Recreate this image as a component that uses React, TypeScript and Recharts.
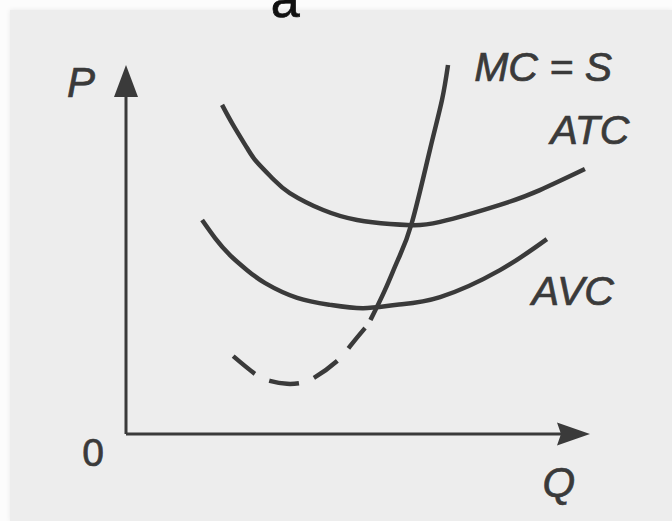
import React from 'react';
import { ComposedChart, Line, XAxis, YAxis, ReferenceLine, ReferenceDot } from 'recharts';

// Average total cost
const atcQ = [2.07, 2.31, 2.61, 2.82, 3.17, 3.53, 4.25, 4.98, 5.69, 6.16, 6.77, 8.06, 8.92, 9.89];
const atcP = [8.92, 8.37, 7.75, 7.37, 6.91, 6.53, 6.07, 5.8, 5.69, 5.66, 5.75, 6.21, 6.61, 7.18];

// Average variable cost
const avcQ = [1.64, 1.92, 2.24, 2.61, 3.0, 3.69, 4.4, 5.11, 5.84, 6.77, 8.06, 9.07];
const avcP = [5.8, 5.31, 4.85, 4.44, 4.09, 3.69, 3.5, 3.41, 3.5, 3.71, 4.44, 5.28];

// Marginal cost (dashed below AVC, solid above = supply)
const mcQ = [2.31, 2.78, 3.1, 3.47, 3.75, 4.05, 4.55, 4.83, 5.15, 5.28, 5.58, 5.86, 6.16, 6.55, 6.81, 6.94];
const mcP = [2.11, 1.63, 1.44, 1.36, 1.38, 1.52, 1.98, 2.38, 2.87, 3.12, 3.9, 4.72, 5.72, 7.7, 9.05, 10.0];

const rows = (q: number[], p: number[]) => q.map((x, i) => ({ q: x, p: p[i] }));

const atcData = rows(atcQ, atcP);
const avcData = rows(avcQ, avcP);
const mcData = rows(mcQ, mcP);

const INK = '#3a3a3a';
const FONT = '"Liberation Sans", Arial, Helvetica, sans-serif';

const labelStyle = (value: string, size: number, italic = true) => ({
  value,
  position: 'center' as const,
  fontSize: size,
  fontStyle: italic ? 'italic' : 'normal',
  fontFamily: FONT,
  fill: INK,
  stroke: INK,
  strokeWidth: 0.7,
});

const arrowUp = (props: any) => {
  const { cx, cy } = props;
  return <polygon points={`${cx},${cy} ${cx - 12},${cy + 32} ${cx + 12},${cy + 32}`} fill={INK} />;
};

const arrowRight = (props: any) => {
  const { cx, cy } = props;
  return (
    <polygon
      points={`${cx},${cy} ${cx - 33},${cy - 11.5} ${cx - 29},${cy} ${cx - 33},${cy + 11.5}`}
      fill={INK}
    />
  );
};

export default function App() {
  return (
    <div style={{ position: 'absolute', left: 0, top: 0, width: 672, height: 521, background: '#fcfcfc', overflow: 'hidden' }}>
      <div style={{ position: 'absolute', left: 10, top: 10, right: 0, bottom: 0, background: '#ededed', boxShadow: '0 0 5px rgba(0,0,0,0.08)' }} />
      <div style={{ position: 'absolute', left: 0, top: 0 }}>
        <ComposedChart width={672} height={521} margin={{ top: 65, right: 82, bottom: 87, left: 126 }}>
          <XAxis type="number" dataKey="q" domain={[0, 10]} hide />
          <YAxis type="number" dataKey="p" domain={[0, 10]} hide />

          {/* axes with arrowheads */}
          <ReferenceLine segment={[{ x: 0, y: 0 }, { x: 9.6, y: 0 }]} stroke={INK} strokeWidth={3} ifOverflow="visible" />
          <ReferenceLine segment={[{ x: 0, y: 0 }, { x: 0, y: 9.5 }]} stroke={INK} strokeWidth={3} ifOverflow="visible" />
          <ReferenceDot x={10} y={0} r={0} ifOverflow="visible" shape={arrowRight} />
          <ReferenceDot x={0} y={10} r={0} ifOverflow="visible" shape={arrowUp} />

          <Line data={atcData} dataKey="p" type="natural" stroke={INK} strokeWidth={4.5} dot={false} isAnimationActive={false} />
          <Line data={avcData} dataKey="p" type="natural" stroke={INK} strokeWidth={4.5} dot={false} isAnimationActive={false} />
          <Line
            data={mcData}
            dataKey="p"
            type="natural"
            stroke={INK}
            strokeWidth={4.5}
            strokeDasharray="28 16 30 16 29 17 26 10 2000"
            dot={false}
            isAnimationActive={false}
          />

          {/* text */}
          <ReferenceDot x={3.43} y={11.8} r={0} stroke="none" ifOverflow="visible"
            label={{ ...labelStyle('a', 52, false), fill: '#111', stroke: '#111' }} />
          <ReferenceDot x={8.99} y={9.95} r={0} stroke="none" ifOverflow="visible" label={labelStyle('MC = S', 41)} />
          <ReferenceDot x={10.0} y={8.24} r={0} stroke="none" ifOverflow="visible" label={labelStyle('ATC', 41)} />
          <ReferenceDot x={9.63} y={3.9} r={0} stroke="none" ifOverflow="visible" label={labelStyle('AVC', 41)} />
          <ReferenceDot x={-0.97} y={9.54} r={0} stroke="none" ifOverflow="visible" label={labelStyle('P', 42)} />
          <ReferenceDot x={-0.71} y={-0.49} r={0} stroke="none" ifOverflow="visible" label={labelStyle('0', 39, false)} />
          <ReferenceDot x={9.33} y={-1.3} r={0} stroke="none" ifOverflow="visible" label={labelStyle('Q', 42)} />
        </ComposedChart>
      </div>
    </div>
  );
}
